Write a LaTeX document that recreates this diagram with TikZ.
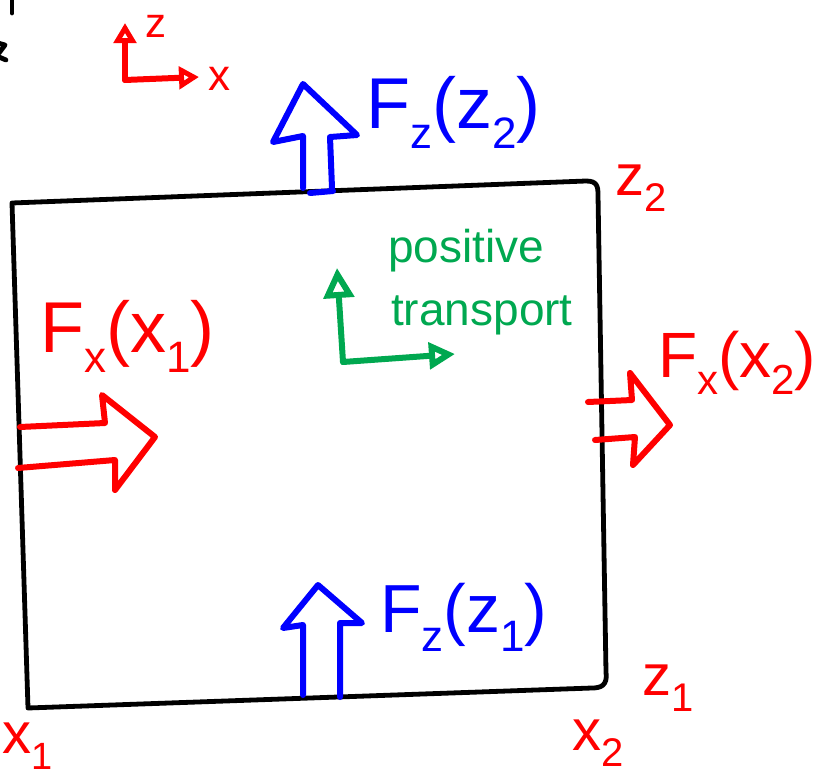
\documentclass[tikz,border=0pt]{standalone}
\usepackage{fontspec}
\setmainfont{Liberation Sans}
\usetikzlibrary{arrows.meta}
\definecolor{hred}{RGB}{255,0,0}
\definecolor{hblue}{RGB}{0,0,255}
\definecolor{hgreen}{RGB}{0,168,80}
\newcommand{\lo}[2][44]{\raisebox{-0.28em}{\fontsize{#1}{#1}\selectfont #2}}
\tikzset{
  frame/.style={draw=black, line width=4.8pt},
  redpen/.style={draw=hred, line width=6pt},
  bluepen/.style={draw=hblue, line width=6pt},
  greenpen/.style={draw=hgreen, line width=6pt},
  lbl/.style={inner sep=0pt, anchor=base west},
  biglbl/.style={lbl, font=\fontsize{68}{68}\selectfont},
  cornerlbl/.style={lbl, text=hred, font=\fontsize{58}{58}\selectfont},
  greenlbl/.style={lbl, text=hgreen, font=\fontsize{46}{46}\selectfont},
}
\begin{document}
\begin{tikzpicture}[x=1pt, y=-1pt, line cap=round, line join=round]
\useasboundingbox (0,0) rectangle (820,779);

% fragments of black text at the top-left edge
\draw[frame] (12,-2) -- (12,13);
\draw[frame] (-2,43) -- (5,45) -- (-1,53);
\draw[frame] (-1,57) -- (6,60);

% control volume
\coordinate (tl) at (12,203);
\coordinate (bl) at (28,708);
\draw[frame] (tl) -- (586,181) .. controls (597,181) and (598,186) .. (598,195)
  -- (606,672) .. controls (608,686) and (600,688) .. (592,688) -- (bl) -- cycle;

% small red axes
\coordinate (ro) at (125,80);
\coordinate (rz) at (125,23);
\coordinate (rx) at (199,77);
\draw[redpen, -{Triangle[open, length=20pt, width=22pt]}] (ro) -- (rz);
\draw[redpen, -{Triangle[open, length=20pt, width=22pt]}] (ro) -- (rx);
\node[lbl, text=hred, font=\fontsize{42}{42}\selectfont] (axz) at (145,37) {z};
\node[lbl, text=hred, font=\fontsize{44}{44}\selectfont] (axx) at (208,90) {x};

% hollow flux arrows
\draw[bluepen] (303,188) -- (303,136) -- (273,142) -- (303,84) -- (357,135) -- (330,137) -- (332,188);
\draw[bluepen] (310,193) -- (333,191);
\draw[bluepen] (303,695) -- (303,625) -- (283,628) -- (318,585) -- (362,623) -- (340,623) -- (340,697);
\draw[redpen] (20,427) -- (105,423) -- (102,395) -- (155,437) -- (115,490) -- (115,460) -- (18,468);
\draw[redpen] (588,402) -- (632,400) -- (630,373) -- (670,425) -- (633,465) -- (635,437) -- (595,440);

% flux labels
\node[biglbl, text=hblue, font=\fontsize{72}{72}\selectfont] (fz2) at (366,128) {F\lo{z}(z\lo{2})};
\node[biglbl, text=hblue] (fz1) at (380,632) {F\lo{z}(z\lo{1})};
\node[biglbl, text=hred, font=\fontsize{72}{72}\selectfont] (fx1) at (40,352) {F\lo{x}(x\lo{1})};
\node[biglbl, text=hred, font=\fontsize{64}{64}\selectfont] (fx2) at (658,377) {F\lo[42]{x}(x\lo[42]{2})};

% boundary labels
\node[cornerlbl] (z2) at (615,195) {z\lo[40]{2}};
\node[cornerlbl] (z1) at (642,695) {z\lo[40]{1}};
\node[cornerlbl] (x2) at (572,750) {x\lo[40]{2}};
\node[cornerlbl] (x1) at (2,753) {x\lo[38]{1}};

% green positive-transport axes
\coordinate (go) at (343,362);
\coordinate (gz) at (337,268);
\coordinate (gx) at (455,354);
\draw[greenpen, -{Triangle[open, length=30pt, width=30pt]}] (go) -- (gz);
\draw[greenpen, -{Triangle[open, length=26pt, width=26pt]}] (go) -- (gx);
\node[greenlbl] (pos) at (388,262) {positive};
\node[greenlbl] (tra) at (391,325) {transport};
\end{tikzpicture}
\end{document}
